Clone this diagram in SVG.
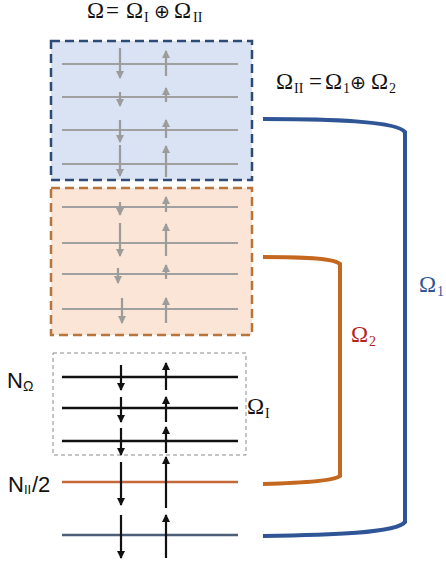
<svg xmlns="http://www.w3.org/2000/svg" width="446" height="565" viewBox="0 0 446 565">
<style>
.m{font-family:"Liberation Serif","DejaVu Serif",serif;font-size:23px;fill:#111}
.s{font-size:14px}
.op{font-family:"DejaVu Sans","Liberation Serif",serif;font-size:19px}
.sans{font-family:"Liberation Sans",Arial,sans-serif;font-size:22px;fill:#111}
.gl{stroke:#a0a0a0;stroke-width:2;fill:none}
.ga{stroke:#9c9c9c;stroke-width:2.2;fill:none;marker-end:url(#hg)}
.kl{stroke:#111;stroke-width:2.5;fill:none}
.ka{stroke:#111;stroke-width:2.2;fill:none;marker-end:url(#hk)}
</style>
<defs>
<marker id="hg" viewBox="0 0 8 8" refX="7" refY="4" markerWidth="8" markerHeight="8" orient="auto" markerUnits="userSpaceOnUse"><path d="M0,0 L8,4 L0,8 z" fill="#9c9c9c"/></marker>
<marker id="hk" viewBox="0 0 8 8" refX="7" refY="4" markerWidth="8" markerHeight="8" orient="auto" markerUnits="userSpaceOnUse"><path d="M0,0 L8,4 L0,8 z" fill="#111"/></marker>
</defs>
<rect width="446" height="565" fill="#fff"/>

<g id="title">
<text class="m" y="18"><tspan x="87">Ω</tspan><tspan x="106">=</tspan><tspan x="126">Ω</tspan><tspan x="144" dy="4" class="s">I</tspan><tspan x="154" dy="-4" class="op">⊕</tspan><tspan x="174">Ω</tspan><tspan x="193" dy="4" class="s">II</tspan></text>
</g>

<g id="omegaII-def">
<text class="m" y="89"><tspan x="276">Ω</tspan><tspan x="294" dy="4" class="s">II</tspan><tspan x="309" dy="-4">=</tspan><tspan x="325">Ω</tspan><tspan x="343" dy="4" class="s">1</tspan><tspan x="350" dy="-4" class="op">⊕</tspan><tspan x="371">Ω</tspan><tspan x="389" dy="4" class="s">2</tspan></text>
</g>

<g id="box-omega1">
<rect x="51" y="41" width="201" height="139" fill="#dae3f3" stroke="#2e4a76" stroke-width="2.5" stroke-dasharray="9,5"/>
<line class="gl" x1="62" y1="64" x2="238" y2="64"/>
<line class="gl" x1="62" y1="97" x2="238" y2="97"/>
<line class="gl" x1="62" y1="130" x2="238" y2="130"/>
<line class="gl" x1="62" y1="164" x2="238" y2="164"/>
<path class="ga" d="M120,48 L120,78"/>
<path class="ga" d="M166,76 L166,51"/>
<path class="ga" d="M120,92 L120,106"/>
<path class="ga" d="M166,102 L166,88"/>
<path class="ga" d="M120,120 L120,142"/>
<path class="ga" d="M166,138 L166,120"/>
<path class="ga" d="M120,145 L120,176"/>
<path class="ga" d="M166,177 L166,146"/>
</g>

<g id="box-omega2">
<rect x="51" y="188" width="201" height="147" fill="#fbe5d6" stroke="#b8743c" stroke-width="2.5" stroke-dasharray="9,5"/>
<line class="gl" x1="62" y1="207" x2="238" y2="207"/>
<line class="gl" x1="62" y1="243" x2="238" y2="243"/>
<line class="gl" x1="62" y1="274" x2="238" y2="274"/>
<line class="gl" x1="62" y1="309" x2="238" y2="309"/>
<path class="ga" d="M120,202 L120,215"/>
<path class="ga" d="M166,212 L166,197"/>
<path class="ga" d="M120,223 L120,256"/>
<path class="ga" d="M166,256 L166,224"/>
<path class="ga" d="M118,268 L118,283"/>
<path class="ga" d="M166,279 L166,265"/>
<path class="ga" d="M122,298 L122,323"/>
<path class="ga" d="M166,323 L166,298"/>
</g>

<g id="box-omegaI">
<rect x="53" y="353" width="193" height="102" fill="none" stroke="#8a8a8a" stroke-width="1" stroke-dasharray="4,3"/>
<line class="kl" x1="62" y1="377" x2="238" y2="377"/>
<line class="kl" x1="62" y1="408" x2="238" y2="408"/>
<line class="kl" x1="62" y1="441" x2="238" y2="441"/>
<path class="ka" d="M121,365 L121,390"/>
<path class="ka" d="M166,390 L166,363"/>
<path class="ka" d="M121,397 L121,422"/>
<path class="ka" d="M166,422 L166,397"/>
<path class="ka" d="M121,428 L121,455"/>
<path class="ka" d="M166,453 L166,427"/>
<text class="m" y="414"><tspan x="247">Ω</tspan><tspan x="265" dy="4" class="s">I</tspan></text>
</g>

<g id="level-half">
<line x1="62" y1="482" x2="238" y2="482" stroke="#c4683a" stroke-width="2.5"/>
<path class="ka" d="M121,462 L121,505"/>
<path class="ka" d="M166,508 L166,457"/>
</g>

<g id="level-bottom">
<line x1="62" y1="535" x2="238" y2="535" stroke="#4d5e78" stroke-width="2.5"/>
<path class="ka" d="M121,515 L121,558"/>
<path class="ka" d="M166,558 L166,515"/>
</g>

<g id="labels-left">
<text class="sans" y="388"><tspan x="7">N</tspan><tspan x="23" dy="3" font-size="14">Ω</tspan></text>
<text class="sans" y="492"><tspan x="8">N</tspan><tspan x="24" dy="2" font-size="13">II</tspan><tspan x="32" dy="-2">/2</tspan></text>
</g>

<g id="connectors">
<path d="M263,119 C330,119 397,121 405,132 L405,522 C397,533 330,535 263,536" fill="none" stroke="#2f5597" stroke-width="4"/>
<path d="M263,257 C300,257 334,258 340,264 L340,476 C334,481 300,483 263,484" fill="none" stroke="#c5681f" stroke-width="4"/>
</g>

<g id="bracket-labels">
<text class="m" y="342" style="fill:#b52222"><tspan x="351">Ω</tspan><tspan x="369" dy="4" class="s">2</tspan></text>
<text class="m" y="292" style="fill:#2f5597"><tspan x="419">Ω</tspan><tspan x="437" dy="4" class="s">1</tspan></text>
</g>
</svg>
